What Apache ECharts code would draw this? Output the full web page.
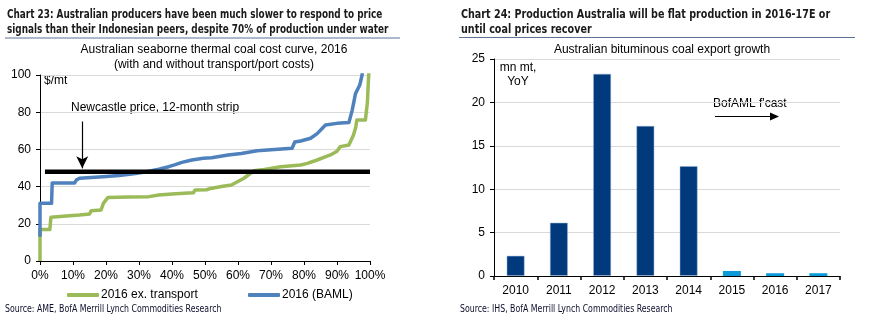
<!DOCTYPE html>
<html>
<head>
<meta charset="utf-8">
<script src="https://cdn.jsdelivr.net/npm/echarts@6/dist/echarts.min.js"></script>
<style>
  html, body { margin: 0; padding: 0; background: #fff; }
  #chart { width: 869px; height: 329px; }
</style>
</head>
<body>
<div id="chart"></div>
<script>
// Chart 23: cost curves, [share of production %, $/mt]
const costCurveBAML = [
  [0, 13], [0, 31], [3.5, 31], [3.7, 42], [10.5, 42], [11, 43.5], [12, 44.5],
  [19, 45.3], [24, 46], [29, 47], [33, 48.3], [36, 49.3], [39, 50.7], [41, 51.8],
  [43, 53], [46, 54.3], [49.5, 55.2], [52, 55.5], [57, 57], [61, 57.8], [65.8, 59.3],
  [70, 59.8], [76.4, 60.6], [77.2, 64], [79, 64.5], [82, 66], [84, 68.5], [86.5, 73.1],
  [90, 74], [93.6, 74.4], [94.6, 81], [95.6, 90], [96.9, 94.6], [97.6, 100], [98, 110]
];
const costCurveExTransport = [
  [0, 0], [0, 17], [3, 17], [3.3, 23.5], [8, 24.2], [12, 24.7], [15, 25.3], [15.5, 27],
  [18.5, 27.4], [19.2, 31], [20.6, 34.2], [27, 34.4], [33, 34.6], [36, 35.5], [40, 36],
  [45, 36.5], [46.5, 36.7], [47, 38.2], [50.5, 38.3], [51.7, 39], [55, 40], [58, 40.9],
  [61.8, 44.5], [64.8, 48.5], [68, 49.2], [72.9, 50.7], [79, 51.6], [81, 52.5], [84, 54.3],
  [88, 57], [90, 59], [91, 61.5], [93.6, 62.4], [94.3, 65], [95, 67.7], [95.7, 72],
  [96, 75.8], [98.6, 75.8], [99.2, 85], [99.6, 100], [100, 110]
];
const newcastlePrice = 48;
const newcastleStart = 1.5;

// Chart 24: export growth, mn mt YoY
const years = ['2010', '2011', '2012', '2013', '2014', '2015', '2016', '2017'];
const exportGrowth = [2.34, 6.14, 23.3, 17.3, 12.67, 0.58, 0.32, 0.32];
const forecastFrom = '2015';

const NAVY = '#003A7D';
const CYAN = '#0A9BD8';
const BLUE = '#4F81BD';
const GREEN = '#9BBB59';
const GRID = '#D9D9D9';
const SANS = 'Liberation Sans, Arial, sans-serif';
const HEAD = '"DejaVu Sans Condensed", "DejaVu Sans", sans-serif';

const chart = echarts.init(document.getElementById('chart'));

const axisText = { color: '#000', fontFamily: SANS, fontSize: 12 };
const blackLine = { lineStyle: { color: '#000', width: 1 } };

// condensed heading/source text: squeezed horizontally about its left edge
function narrowText(x, y, text, size, weight, color, squeeze) {
  return {
    type: 'text', x: x, y: y, scaleX: squeeze, originX: 0, originY: 0,
    style: { text: text, fontFamily: HEAD, fontSize: size, fontWeight: weight, fill: color, verticalAlign: 'middle' }
  };
}
function plainText(x, y, text, align) {
  return {
    type: 'text', x: x, y: y,
    style: { text: text, fontFamily: SANS, fontSize: 12, fill: '#000', align: align || 'left', verticalAlign: 'middle' }
  };
}

const forecastIdx = years.indexOf(forecastFrom);

chart.setOption({
  animation: false,
  grid: [
    { left: 40, top: 75, width: 330, height: 186 },
    { left: 494, top: 59, width: 346, height: 217 }
  ],
  xAxis: [
    {
      gridIndex: 0, type: 'value', min: 0, max: 100, interval: 10,
      axisLine: blackLine, axisTick: { show: true, length: 4, lineStyle: { color: '#000' } },
      splitLine: { show: false },
      axisLabel: Object.assign({ margin: 9, formatter: '{value}%' }, axisText)
    },
    {
      gridIndex: 1, type: 'category', data: years,
      axisLine: blackLine, axisTick: { show: true, length: 4, lineStyle: { color: '#000', width: 1.5 } },
      axisLabel: Object.assign({ margin: 9 }, axisText)
    }
  ],
  yAxis: [
    {
      gridIndex: 0, type: 'value', min: 0, max: 100, interval: 20,
      axisLine: { show: true, lineStyle: { color: '#000', width: 1 } },
      axisTick: { show: true, length: 4, lineStyle: { color: '#000' } },
      splitLine: { lineStyle: { color: GRID, width: 1 } },
      axisLabel: Object.assign({ margin: 9 }, axisText)
    },
    {
      gridIndex: 1, type: 'value', min: 0, max: 25, interval: 5,
      axisLine: { show: true, lineStyle: { color: '#000', width: 1 } },
      axisTick: { show: true, length: 4, lineStyle: { color: '#000' } },
      splitLine: { lineStyle: { color: GRID, width: 1 } },
      axisLabel: Object.assign({ margin: 9 }, axisText)
    }
  ],
  legend: [
    {
      data: ['2016 ex. transport'], left: 62, top: 284,
      icon: 'roundRect', itemWidth: 32, itemHeight: 4, itemGap: 0,
      textStyle: { color: '#000', fontFamily: SANS, fontSize: 12, padding: [0, 0, 0, -3] }
    },
    {
      data: ['2016 (BAML)'], left: 243, top: 284,
      icon: 'roundRect', itemWidth: 32, itemHeight: 4, itemGap: 0,
      textStyle: { color: '#000', fontFamily: SANS, fontSize: 12, padding: [0, 0, 0, -3] }
    }
  ],
  series: [
    {
      name: '2016 ex. transport', type: 'line', xAxisIndex: 0, yAxisIndex: 0,
      data: costCurveExTransport, showSymbol: false, symbol: 'none',
      color: GREEN, lineStyle: { color: GREEN, width: 3.5, join: 'round' }, z: 3
    },
    {
      name: '2016 (BAML)', type: 'line', xAxisIndex: 0, yAxisIndex: 0,
      data: costCurveBAML, showSymbol: false, symbol: 'none',
      color: BLUE, lineStyle: { color: BLUE, width: 3.5, join: 'round' }, z: 3
    },
    {
      name: 'Newcastle price', type: 'line', xAxisIndex: 0, yAxisIndex: 0,
      data: [[newcastleStart, newcastlePrice], [100, newcastlePrice]],
      showSymbol: false, symbol: 'none', color: '#000',
      lineStyle: { color: '#000', width: 4.5 }, z: 4,
      markLine: {
        silent: true, symbol: ['none', 'arrow'], symbolSize: [9, 12],
        label: { show: false },
        lineStyle: { color: '#000', width: 1.2, type: 'solid' },
        data: [[{ coord: [12.8, 75] }, { coord: [12.8, 49.8] }]]
      }
    },
    {
      name: 'Export growth', type: 'bar', xAxisIndex: 1, yAxisIndex: 1,
      barWidth: 18,
      data: exportGrowth.map((v, i) => ({
        value: v,
        itemStyle: { color: i < forecastIdx ? NAVY : CYAN, borderColor: 'rgba(150,175,210,0.6)', borderWidth: i < forecastIdx ? 0.8 : 0 }
      }))
    }
  ],
  graphic: [
    // headings
    narrowText(7, 15, 'Chart 23: Australian producers have been much slower to respond to price', 13, 'bold', '#1a1a1a', 0.76),
    narrowText(7, 30, 'signals than their Indonesian peers, despite 70% of production under water', 13, 'bold', '#1a1a1a', 0.76),
    narrowText(461, 15, 'Chart 24: Production Australia will be flat production in 2016-17E or', 13, 'bold', '#1a1a1a', 0.82),
    narrowText(461, 30, 'until coal prices recover', 13, 'bold', '#1a1a1a', 0.82),
    { type: 'line', shape: { x1: 5, y1: 38, x2: 400, y2: 38 }, style: { stroke: '#5C7396', lineWidth: 1 } },
    { type: 'line', shape: { x1: 459, y1: 37.5, x2: 855, y2: 37.5 }, style: { stroke: '#5C7396', lineWidth: 1 } },
    // chart titles
    plainText(214, 50, 'Australian seaborne thermal coal cost curve, 2016', 'center'),
    plainText(214, 65, '(with and without transport/port costs)', 'center'),
    plainText(662, 50, 'Australian bituminous coal export growth', 'center'),
    // annotations
    plainText(44, 81, '$/mt'),
    plainText(71, 108, 'Newcastle price, 12-month strip'),
    plainText(518, 68, 'mn mt,', 'center'),
    plainText(518, 82, 'YoY', 'center'),
    plainText(713, 104, "BofAML f'cast"),
    { type: 'line', shape: { x1: 715, y1: 116.5, x2: 771, y2: 116.5 }, style: { stroke: '#000', lineWidth: 1 } },
    { type: 'polygon', shape: { points: [[770, 112.5], [779, 116.5], [770, 120.5]] }, style: { fill: '#000' } },
    // sources
    narrowText(5, 309, 'Source: AME, BofA Merrill Lynch Commodities Research', 10, 'normal', '#0d0d2b', 0.87),
    narrowText(460, 309, 'Source: IHS, BofA Merrill Lynch Commodities Research', 10, 'normal', '#0d0d2b', 0.87)
  ]
});
</script>
</body>
</html>
